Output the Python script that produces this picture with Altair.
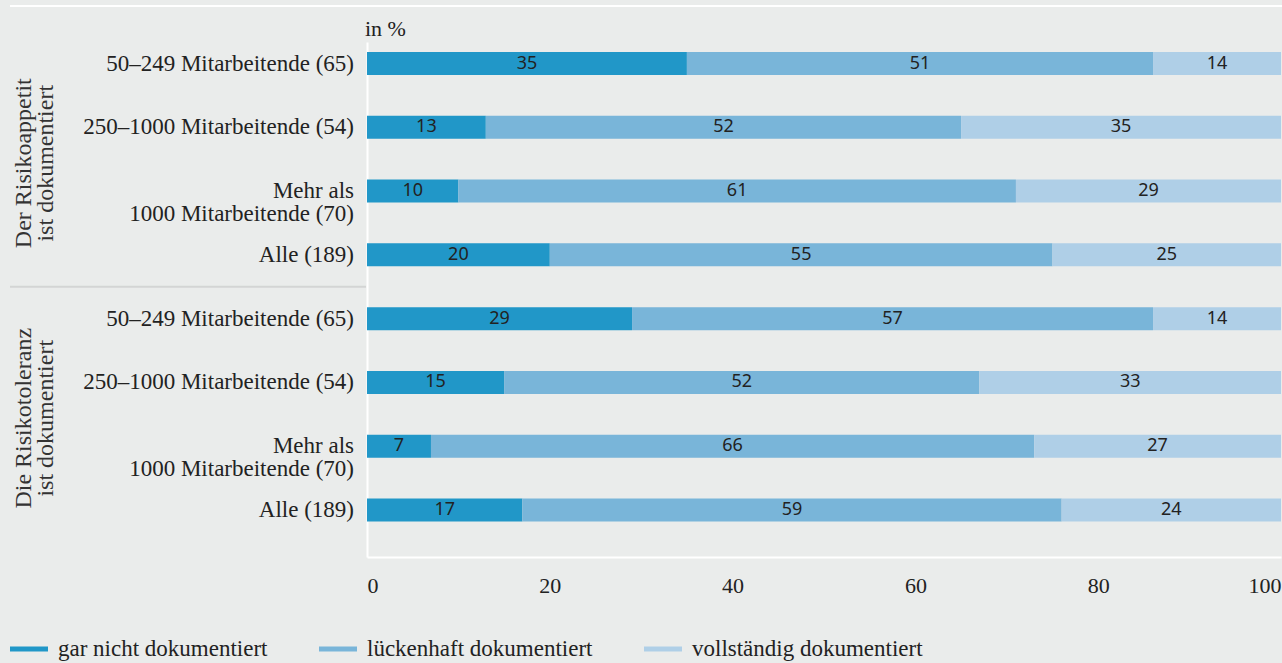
import altair as alt
import pandas as pd

# ---- data -------------------------------------------------------------
row_labels = [
    "50\u2013249 Mitarbeitende (65)",
    "250\u20131000 Mitarbeitende (54)",
    "Mehr als\n1000 Mitarbeitende (70)",
    "Alle (189)",
    "50\u2013249 Mitarbeitende (65)",
    "250\u20131000 Mitarbeitende (54)",
    "Mehr als\n1000 Mitarbeitende (70)",
    "Alle (189)",
]
row_group = [0, 0, 0, 0, 1, 1, 1, 1]
group_labels = ["Der Risikoappetit\nist dokumentiert", "Die Risikotoleranz\nist dokumentiert"]
categories = ["gar nicht dokumentiert", "lückenhaft dokumentiert", "vollständig dokumentiert"]
gar_nicht = [35, 13, 10, 20, 29, 15, 7, 17]
lueckenhaft = [51, 52, 61, 55, 57, 52, 66, 59]
vollstaendig = [14, 35, 29, 25, 14, 33, 27, 24]
colors = ["#2197c8", "#79b5d9", "#afcfe7"]
x_ticks = [0, 20, 40, 60, 80, 100]
unit_label = ["in %"]

# ---- tables -----------------------------------------------------------
recs = []
for i in range(len(row_labels)):
    start = 0
    for cat, vals in zip(categories, [gar_nicht, lueckenhaft, vollstaendig]):
        v = vals[i]
        recs.append({"idx": i, "kat": cat, "order": categories.index(cat),
                     "start": start, "end": start + v, "mid": start + v / 2, "value": v})
        start += v
bars_df = pd.DataFrame(recs)
rows_df = pd.DataFrame({"idx": list(range(len(row_labels))), "label": row_labels})
groups_df = pd.DataFrame({
    "idx": [sum(i for i, g in enumerate(row_group) if g == k) / row_group.count(k) for k in (0, 1)],
    "label": group_labels,
})
sep_df = pd.DataFrame({"idx": [(3 + 4) / 2]})
unit_df = pd.DataFrame({"label": unit_label})

SERIF = "Liberation Serif"
SANS = "Noto Sans"
TXT = "#222222"
BG = "#eaeceb"

xscale = alt.Scale(domain=[0, 100], nice=False, zero=True)
yscale = alt.Scale(domain=[-0.26, 7.66], reverse=True, nice=False, zero=False)
xaxis = alt.Axis(values=x_ticks, title=None, grid=False, ticks=False, domainColor="white",
                 domainWidth=2, labelFont=SERIF, labelFontSize=22, labelColor=TXT,
                 labelPadding=18, labelFlush=True)
yaxis = alt.Axis(title=None, labels=False, grid=False, ticks=False, domainColor="white",
                 domainWidth=2)

Y = alt.Y("idx:Q", scale=yscale, axis=yaxis)

bars = alt.Chart(bars_df).mark_bar(size=23, orient="horizontal").encode(
    x=alt.X("start:Q", scale=xscale, axis=xaxis),
    x2="end:Q",
    y=Y,
    color=alt.Color(
        "kat:N",
        scale=alt.Scale(domain=categories, range=colors),
        legend=alt.Legend(
            title=None, orient="none", legendX=-357, legendY=588, direction="horizontal",
            columns=3, symbolType="M-1,-0.135H1V0.135H-1Z", symbolSize=1444,
            symbolStrokeWidth=0, labelFont=SERIF, labelFontSize=23, labelColor=TXT,
            labelOffset=10, columnPadding=51, labelLimit=400,
        ),
    ),
    order=alt.Order("order:Q"),
)

bar_text = alt.Chart(bars_df).mark_text(font=SANS, fontSize=18, color=TXT, baseline="middle").encode(
    x=alt.X("mid:Q", scale=xscale, axis=xaxis),
    y=Y,
    text=alt.Text("value:Q"),
)

row_text = alt.Chart(rows_df).mark_text(
    font=SERIF, fontSize=23, color=TXT, align="right", baseline="middle",
    lineBreak="\n", lineHeight=23,
).encode(x=alt.value(-13), y=Y, text="label:N")

group_text = alt.Chart(groups_df).mark_text(
    font=SERIF, fontSize=24, color="#333333", align="center", baseline="middle",
    angle=270, lineBreak="\n", lineHeight=22, dx=-4,
).encode(x=alt.value(-343), y=Y, text="label:N")

unit_text = alt.Chart(unit_df).mark_text(
    font=SERIF, fontSize=22, color=TXT, align="left", baseline="alphabetic",
).encode(x=alt.value(-2), y=alt.value(-6), text="label:N")

sep_rule = alt.Chart(sep_df).mark_rule(color="#d3d5d4", strokeWidth=2).encode(
    y=Y, x=alt.value(-357), x2=alt.value(-1)
)

top_rule = alt.Chart(sep_df).mark_rule(color="white", strokeWidth=2).encode(
    y=alt.value(-36), x=alt.value(-357), x2=alt.value(915)
)

chart = alt.layer(top_rule, sep_rule, bars, bar_text, row_text, group_text, unit_text).properties(
    width=914, height=515,
    autosize=alt.AutoSizeParams(type="none"),
    padding={"left": 367, "top": 42, "right": 1, "bottom": 106},
).configure(background=BG).configure_view(stroke=None)

chart.save("out.html", embed_options={"renderer": "svg", "actions": False})
